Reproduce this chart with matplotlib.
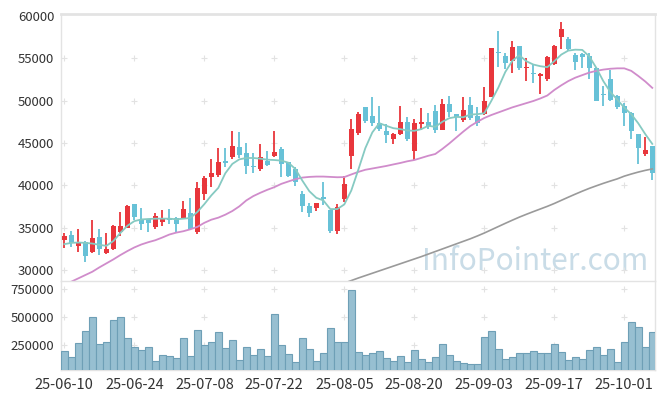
import numpy as np
import pandas as pd
import matplotlib
matplotlib.use("Agg")
import matplotlib.pyplot as plt

plt.rcParams['font.family'] = ['Noto Sans CJK KR', 'DejaVu Sans']

# ---------------- data ----------------
holidays = ['2025-08-15', '2025-10-03', '2025-10-06', '2025-10-07', '2025-10-08', '2025-10-09']
dates = pd.bdate_range('2025-06-10', '2025-10-14', freq='C', holidays=holidays)

opens = [33550, 34140, 32890, 33400, 32190, 33900, 32070, 32540, 34530, 35000,
         37770, 36020, 36020, 35080, 35700, 36170, 36210, 36050, 36720, 34530,
         38980, 41050, 41290, 42930, 43320, 44570, 43870, 42340, 41930, 42890,
         43440, 44340, 42730, 41950, 38950, 37540, 37340, 38590, 37070, 34650,
         38360, 43440, 46130, 49250, 48200, 47410, 46400, 45460, 46010, 47490,
         44020, 47300, 47490, 48780, 46590, 49600, 48430, 47770, 49450, 48200,
         48380, 50450, 55740, 55230, 54720, 56400, 53820, 53240, 52840, 52490,
         54260, 57500, 57300, 55340, 55500, 55200, 53870, 50760, 52500, 50540,
         49370, 48590, 46050, 43700, 44680]
highs = [34350, 34600, 34850, 33450, 35900, 34850, 34450, 35390, 36840, 37660,
         37800, 37380, 36100, 36760, 37150, 37270, 36250, 38200, 38480, 40390,
         41170, 43160, 44450, 44450, 46450, 46330, 45000, 43870, 44880, 44100,
         46450, 44490, 42800, 42140, 39340, 37970, 37950, 40390, 37100, 37850,
         41170, 47810, 48710, 49300, 50420, 49370, 47220, 46150, 49370, 48120,
         47800, 49090, 48510, 49450, 50230, 50540, 48450, 50420, 50420, 49250,
         51630, 56150, 58160, 55620, 56980, 56420, 55030, 54250, 53270, 55230,
         56600, 59230, 57450, 55620, 55620, 55620, 53900, 51700, 53550, 50600,
         49760, 48600, 46100, 45660, 44700]
lows = [32600, 32700, 32110, 30940, 32100, 31760, 31880, 32450, 34060, 34950,
        35900, 34730, 34530, 34920, 35270, 35470, 34450, 36000, 34920, 34340,
        38320, 39880, 41050, 42140, 43120, 43240, 41360, 41440, 41660, 42300,
        43400, 40980, 41000, 39920, 36880, 36290, 36950, 37730, 34450, 34340,
        38050, 41950, 45980, 47400, 47020, 46440, 44990, 44880, 45950, 45270,
        43000, 46520, 46630, 46160, 46550, 48120, 46440, 47490, 47690, 47020,
        48350, 50400, 53980, 53670, 53290, 53550, 52300, 52110, 50730, 52300,
        54200, 56130, 55810, 53550, 53860, 52550, 49960, 49370, 49960, 48980,
        47050, 45470, 42540, 43510, 40700]
closes = [34020, 33280, 33320, 31720, 33790, 32540, 32500, 35200, 35200, 37540,
          36290, 35470, 35590, 36370, 36020, 35900, 35470, 37270, 34920, 39650,
          40940, 41440, 42810, 42610, 44690, 43630, 42270, 42140, 43410, 42420,
          43980, 42540, 41090, 40390, 37580, 36760, 37890, 38360, 34650, 37420,
          40230, 46680, 48400, 47610, 47410, 46710, 45930, 46090, 47490, 45420,
          47370, 47490, 46950, 46480, 49600, 48660, 48040, 48860, 47920, 47410,
          49950, 56150, 55630, 54450, 56280, 53860, 53940, 53080, 53080, 55110,
          56410, 58480, 56090, 54560, 55190, 53870, 49960, 50650, 50060, 49250,
          48590, 46370, 44370, 44170, 41440]
volumes = [200000, 143000, 268000, 374000, 507000, 262000, 277000, 475000, 507000, 312000,
           232000, 209000, 232000, 111000, 161000, 152000, 135000, 312000, 152000, 383000,
           250000, 277000, 365000, 223000, 294000, 120000, 232000, 161000, 215000, 152000,
           534000, 250000, 170000, 99000, 312000, 215000, 108000, 179000, 401000, 277000,
           277000, 746000, 188000, 161000, 179000, 197000, 135000, 108000, 152000, 99000,
           206000, 126000, 99000, 143000, 259000, 161000, 108000, 90000, 82000, 82000,
           321000, 374000, 215000, 126000, 143000, 179000, 179000, 197000, 179000, 179000,
           259000, 188000, 117000, 143000, 126000, 206000, 232000, 161000, 215000, 99000,
           277000, 454000, 410000, 232000, 365000]
ma5 = [33090, 33240, 33280, 33240, 33160, 33010, 32890, 33450, 34400, 35250,
       35800, 36000, 36050, 36090, 36090, 36090, 36020, 36090, 36170, 36880,
       37800, 38830, 39720, 41440, 42540, 43080, 43240, 43240, 43160, 43040,
       43000, 42930, 42690, 41950, 40580, 39330, 38550, 38240, 37220, 37220,
       37770, 39410, 41850, 44390, 46250, 47340, 47030, 46750, 46640, 46480,
       46440, 46640, 47030, 46910, 47500, 47930, 48080, 48040, 48360, 48400,
       48510, 49960, 51520, 53370, 54680, 55340, 54640, 54250, 54050, 53940,
       54640, 55420, 55890, 56000, 55970, 55200, 53860, 52300, 51030, 50110,
       49170, 48390, 47320, 46050, 44900]
ma20 = [28400, 28670, 29060, 29450, 29840, 30350, 30820, 31290, 31800, 32270,
        32700, 33050, 33320, 33550, 33870, 34220, 34450, 34610, 34840, 35120,
        35600, 35970, 36210, 36560, 36990, 37540, 38240, 38750, 39140, 39490,
        39800, 40190, 40470, 40740, 40930, 41010, 41050, 41050, 41010, 40970,
        40990, 41300, 41600, 41850, 42000, 42150, 42300, 42480, 42650, 42850,
        43000, 43250, 43500, 43710, 44300, 44950, 45650, 46350, 47000, 47500,
        47950, 48300, 48600, 48900, 49200, 49450, 49700, 49950, 50250, 50600,
        51250, 51800, 52300, 52700, 53000, 53300, 53500, 53650, 53750, 53800,
        53800, 53500, 52900, 52250, 51500]
ma120 = [np.nan] * 40 + [
        28500, 28800, 29100, 29380, 29660, 29940, 30220, 30500, 30780, 31060,
        31340, 31620, 31920, 32220, 32520, 32820, 33120, 33420, 33720, 34050,
        34400, 34780, 35160, 35540, 35910, 36270, 36600, 36920, 37230, 37540,
        37880, 38250, 38620, 38980, 39330, 39660, 39960, 40250, 40520, 40780,
        41100, 41350, 41580, 41780, 41950]
price_ticks = [30000, 35000, 40000, 45000, 50000, 55000, 60000]
volume_ticks = [250000, 500000, 750000]
label_every = 10

# ---------------- drawing ----------------
UP = '#e8363c'
DOWN = '#67c1d7'
SPINE = '#e3e3e3'
TXT = '#333333'

df = pd.DataFrame({'open': opens, 'high': highs, 'low': lows, 'close': closes,
                   'volume': volumes, 'ma5': ma5, 'ma20': ma20, 'ma120': ma120},
                  index=dates)
x = np.arange(len(df))
up = (df['close'] >= df['open']).values
colors = np.where(up, UP, DOWN)

fig = plt.figure(figsize=(6.65, 3.99), dpi=100)
ax1 = fig.add_axes([0.0922, 0.2945, 0.8932, 0.6704])
ax2 = fig.add_axes([0.0922, 0.0727, 0.8932, 0.2218], sharex=ax1)

# wicks and bodies
ax1.vlines(x, df['low'], df['high'], colors=colors, linewidth=1.3, zorder=3)
body_bottom = np.minimum(df['open'], df['close'])
body_h = np.maximum(np.abs(df['close'] - df['open']), 150)
ax1.bar(x, body_h, bottom=body_bottom, width=0.72, color=colors, linewidth=0, zorder=4)

# moving averages
ax1.plot(x, df['ma120'], color='#9a9a9a', linewidth=1.2, zorder=5)
ax1.plot(x, df['ma20'], color='#d08ccb', linewidth=1.3, zorder=5)
ax1.plot(x, df['ma5'], color='#86cac2', linewidth=1.3, zorder=5)

# watermark
ax1.text(83.4, 30000, 'InfoPointer.com', ha='right', va='baseline', fontsize=21.5,
         color='#c9dce7', zorder=1)

# volume
ax2.bar(x, df['volume'], width=1.0, color='#97bfd1', edgecolor='#6e9fb6',
        linewidth=0.8, zorder=3)

ax1.set_xlim(-0.43, 84.43)
ax1.set_ylim(28690, 60200)
ax2.set_ylim(30000, 820000)

# grid crosses
gx = x[::label_every]
for ax, ticks in ((ax1, price_ticks[:-1]), (ax2, volume_ticks)):
    GX, GY = np.meshgrid(gx, ticks)
    ax.plot(GX.ravel(), GY.ravel(), '+', color='#e2e2e2', markersize=3.8,
            markeredgewidth=0.8, zorder=1, linestyle='none')

ax1.set_yticks(price_ticks)
ax1.set_yticklabels([str(v) for v in price_ticks])
ax2.set_yticks(volume_ticks)
ax2.set_yticklabels([str(v) for v in volume_ticks])
ax2.set_xticks(gx)
ax2.set_xticklabels([d.strftime('%y-%m-%d') for d in df.index[::label_every]])
ax1.tick_params(axis='x', labelbottom=False, length=0)

for ax in (ax1, ax2):
    ax.tick_params(axis='both', length=0, colors=TXT, labelsize=9.5)
    ax.tick_params(axis='y', pad=5)
    for s in ax.spines.values():
        s.set_color(SPINE)
        s.set_linewidth(1.0)
ax2.tick_params(axis='x', pad=6, labelsize=10.5)
ax1.spines['top'].set_linewidth(2.0)
ax1.spines['bottom'].set_visible(False)

fig.savefig('out.png', dpi=100, facecolor='white')
